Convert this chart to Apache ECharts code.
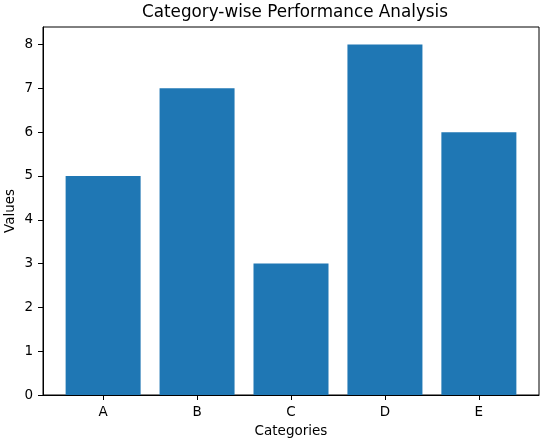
<!DOCTYPE html>
<html>
<head>
<meta charset="utf-8">
<script src="https://cdn.jsdelivr.net/npm/echarts@6/dist/echarts.min.js"></script>
<style>
    html, body { margin: 0; padding: 0; background: #fff; }
    #chart { width: 546px; height: 442px; }
</style>
</head>
<body>
<div id="chart"></div>
<script>
// 数据
const categories = ['A', 'B', 'C', 'D', 'E'];
const values = [5, 7, 3, 8, 6];
const yTicks = [0, 1, 2, 3, 4, 5, 6, 7, 8];

const font = 'DejaVu Sans, sans-serif';
const barColor = '#1f77b4';

const chart = echarts.init(document.getElementById('chart'));

const option = {
    backgroundColor: '#fff',
    animation: false,
    title: {
        text: 'Category-wise Performance Analysis',
        left: 290,
        top: -1,
        textAlign: 'center',
        textStyle: {
            color: '#000',
            fontFamily: font,
            fontSize: 16.8,
            fontWeight: 'normal'
        }
    },
    grid: {
        left: 43,
        right: 7,
        top: 27,
        bottom: 47,
        containLabel: false,
        outerBoundsMode: 'none',
        show: true,
        borderColor: '#000',
        borderWidth: 1,
        backgroundColor: 'transparent'
    },
    xAxis: {
        type: 'value',
        min: -0.64,
        max: 4.64,
        name: 'Categories',
        nameLocation: 'middle',
        nameGap: 29,
        nameMoveOverlap: false,
        nameTextStyle: { color: '#000', fontFamily: font, fontSize: 13.5 },
        axisLine: { show: true, onZero: false, lineStyle: { color: '#000', width: 1 } },
        axisTick: {
            show: true,
            length: 5,
            lineStyle: { color: '#000' },
            customValues: categories.map((c, i) => i)
        },
        axisLabel: {
            color: '#000',
            fontFamily: font,
            fontSize: 13.5,
            margin: 10,
            customValues: categories.map((c, i) => i),
            formatter: (v) => categories[v]
        },
        splitLine: { show: false }
    },
    yAxis: {
        type: 'value',
        min: 0,
        max: 8.4,
        name: 'Values',
        nameLocation: 'middle',
        nameGap: 26,
        nameMoveOverlap: false,
        nameTextStyle: { color: '#000', fontFamily: font, fontSize: 13.5 },
        axisLine: { show: true, onZero: false, lineStyle: { color: '#000', width: 1 } },
        axisTick: {
            show: true,
            length: 5,
            lineStyle: { color: '#000' },
            customValues: yTicks
        },
        axisLabel: {
            color: '#000',
            fontFamily: font,
            fontSize: 13.5,
            margin: 10,
            customValues: yTicks
        },
        splitLine: { show: false }
    },
    series: [{
        type: 'bar',
        data: values.map((v, i) => [i, v]),
        barWidth: 75,
        itemStyle: { color: barColor, borderWidth: 0 }
    }]
};

chart.setOption(option);
</script>
</body>
</html>
